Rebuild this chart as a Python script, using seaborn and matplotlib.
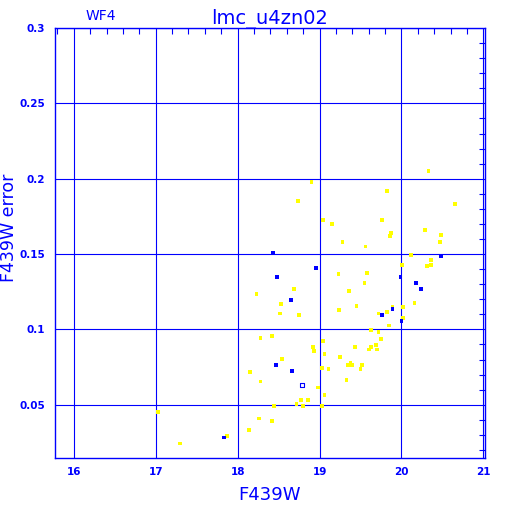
"""
plot.py
Magnitude vs. magnitude error scatter for lmc_u4zn02 (WF4 chip).
"""
import numpy as np
import pandas as pd
import matplotlib
matplotlib.use("Agg")
import matplotlib.pyplot as plt
from matplotlib.ticker import MultipleLocator, FormatStrFormatter
import seaborn as sns

BLUE = "#0000ff"
YELLOW = "#ffff00"

# yellow stars (F439W, error)
YEL_MAG = [18.90, 18.74, 19.04, 19.15, 19.28, 19.56, 19.23, 19.58, 19.55, 18.69,
           18.23, 19.36, 18.53, 19.45, 19.24, 18.52, 18.75, 18.28, 18.42, 18.92,
           18.93, 19.04, 19.06, 19.25, 19.35, 18.54, 18.15, 18.28, 19.03, 19.11,
           19.33, 18.98, 19.06, 18.77, 18.86, 18.72, 18.80, 19.03, 18.44, 17.03,
           18.26, 18.42, 18.14, 17.87, 17.30, 20.33, 19.82, 20.65, 19.76, 20.29,
           20.48, 19.87, 19.86, 20.47, 20.12, 20.36, 20.36, 20.31, 20.01, 20.16,
           20.02, 19.89, 19.82, 19.72, 20.02, 19.85, 19.63, 19.72, 19.75, 19.43,
           19.63, 19.69, 19.60, 19.70, 19.38, 19.40, 19.52, 19.50]
YEL_ERR = [0.198, 0.185, 0.1725, 0.170, 0.158, 0.155, 0.1367, 0.1375, 0.1309, 0.1269,
           0.1234, 0.1256, 0.1167, 0.1154, 0.113, 0.1105, 0.1097, 0.0942, 0.0955, 0.0884,
           0.0857, 0.0924, 0.0835, 0.0818, 0.0764, 0.0804, 0.0716, 0.0654, 0.0742, 0.0738,
           0.0663, 0.0614, 0.0565, 0.053, 0.053, 0.0503, 0.049, 0.049, 0.049, 0.045,
           0.041, 0.0392, 0.0331, 0.0291, 0.0242, 0.2053, 0.192, 0.1831, 0.1725, 0.1659,
           0.1628, 0.1641, 0.1619, 0.158, 0.1495, 0.146, 0.1428, 0.142, 0.1428, 0.1176,
           0.115, 0.115, 0.1114, 0.1105, 0.1074, 0.1026, 0.0995, 0.0981, 0.0937, 0.0884,
           0.0884, 0.0897, 0.0867, 0.0867, 0.0778, 0.0764, 0.0764, 0.0738]

# blue stars
BLU_MAG = [18.43, 18.96, 18.48, 18.65, 18.47, 18.66, 17.83, 20.48, 19.99, 20.18,
           20.24, 19.89, 19.76, 20.00]
BLU_ERR = [0.1506, 0.1406, 0.1349, 0.1194, 0.0764, 0.0724, 0.0282, 0.1486, 0.1347, 0.1309,
           0.1269, 0.1134, 0.1096, 0.1056]

# open marker
OPEN_MAG = [18.79]
OPEN_ERR = [0.0634]

X_TICKS = [16, 17, 18, 19, 20, 21]
Y_TICKS = [0.05, 0.1, 0.15, 0.2, 0.25, 0.3]


def main():
    sns.set_style("white")
    plt.rcParams["font.family"] = ["DejaVu Sans"]

    df = pd.DataFrame({
        "mag": YEL_MAG + BLU_MAG,
        "err": YEL_ERR + BLU_ERR,
        "grp": ["y"] * len(YEL_MAG) + ["b"] * len(BLU_MAG),
    })

    fig = plt.figure(figsize=(5.12, 5.12), dpi=100)
    ax = fig.add_axes([0.1074, 0.1064, 0.8398, 0.8389])

    sns.scatterplot(data=df, x="mag", y="err", hue="grp",
                    palette={"y": YELLOW, "b": BLUE}, marker="s", s=7,
                    linewidth=0, legend=False, ax=ax, zorder=3)
    sns.scatterplot(x=OPEN_MAG, y=OPEN_ERR, marker="s", s=12,
                    facecolor="white", edgecolor=BLUE, linewidth=0.8,
                    ax=ax, zorder=4)

    ax.set_xlim(15.77, 21.02)
    ax.set_ylim(0.015, 0.3)

    ax.set_xticks(X_TICKS)
    ax.set_yticks(Y_TICKS)
    ax.yaxis.set_major_formatter(FormatStrFormatter("%g"))
    ax.xaxis.set_minor_locator(MultipleLocator(0.2))
    ax.yaxis.set_minor_locator(MultipleLocator(0.01))

    ax.grid(True, which="major", color=BLUE, linewidth=0.8)
    ax.set_axisbelow(True)
    for sp in ax.spines.values():
        sp.set_color(BLUE)
        sp.set_linewidth(1.0)

    ax.tick_params(which="both", direction="in", colors=BLUE,
                   top=True, right=True, labelsize=7.5)
    ax.tick_params(which="major", length=0, pad=7)
    ax.tick_params(which="minor", length=4, width=0.8)
    for lab in ax.get_xticklabels() + ax.get_yticklabels():
        lab.set_fontweight("bold")

    ax.set_xlabel("F439W", color=BLUE, fontsize=13, labelpad=6)
    ax.set_ylabel("F439W error", color=BLUE, fontsize=12.5)
    ax.yaxis.set_label_coords(-0.085, 0.534)
    ax.set_title("lmc_u4zn02", color=BLUE, fontsize=14, pad=3)
    ax.text(0.07, 1.012, "WF4", color=BLUE, fontsize=10,
            transform=ax.transAxes, ha="left", va="bottom")

    fig.savefig("out.png", dpi=100)
    plt.close(fig)


if __name__ == "__main__":
    main()
